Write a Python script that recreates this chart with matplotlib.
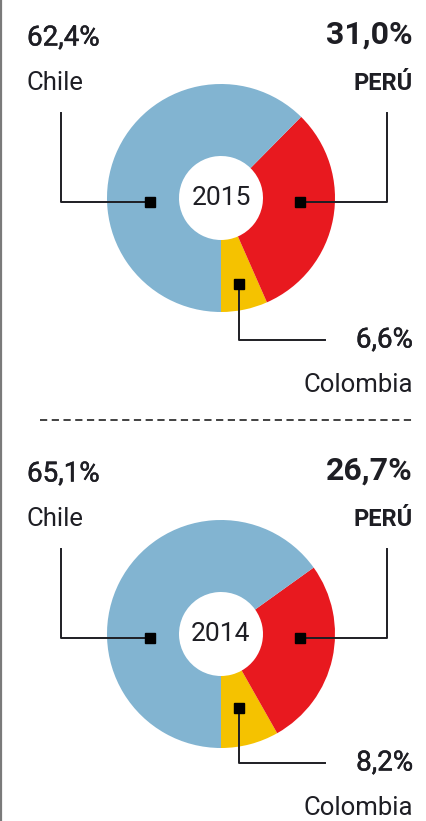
import matplotlib
matplotlib.use("Agg")
import matplotlib.pyplot as plt
import matplotlib.patheffects as pe

plt.rcParams['font.family'] = ['Roboto', 'DejaVu Sans']

# data
countries = ["Colombia", "PERÚ", "Chile"]
years = ["2015", "2014"]
shares_2015 = [6.6, 31.0, 62.4]
shares_2014 = [8.2, 26.7, 65.1]
colors = ["#f5c200", "#e8191f", "#82b4d1"]
txt = "#1e1e24"

# regular text thickened a little, to look "medium"
medium = [pe.withStroke(linewidth=0.35, foreground=txt)]


def fmt(v):
    return f"{v:.1f}%".replace(".", ",")


def panel(ax, cy, shares, year, col_y):
    cx = 221
    ax.pie(shares, colors=colors, startangle=90, counterclock=False,
           radius=114, center=(cx, cy),
           wedgeprops=dict(width=72, edgecolor='none'))
    ax.text(cx, cy, year, ha='center', va='center', fontsize=19, color=txt)

    # Chile label + leader
    ax.text(27, cy - 160, fmt(shares[2]), ha='left', va='center',
            fontsize=20, color=txt, path_effects=medium)
    ax.text(27, cy - 108, countries[2], ha='left', va='baseline',
            fontsize=18.5, color=txt)
    ax.plot([150, 61, 61], [cy + 4, cy + 4, cy - 85], color=txt, lw=1.4)
    ax.plot(150, cy + 4, 's', color='black', ms=6.5)

    # Peru label + leader
    ax.text(413, cy - 163, fmt(shares[1]), ha='right', va='center',
            fontsize=23, fontweight='bold', color=txt)
    ax.text(413, cy - 108, countries[1], ha='right', va='baseline',
            fontsize=17, fontweight='bold', color=txt)
    ax.plot([300, 387, 387], [cy + 4, cy + 4, cy - 85], color=txt, lw=1.4)
    ax.plot(300, cy + 4, 's', color='black', ms=6.5)

    # Colombia label + leader
    mk_y = col_y[0]
    ax.plot([239, 239, 325], [mk_y, col_y[1], col_y[1]], color=txt, lw=1.4)
    ax.plot(239, mk_y, 's', color='black', ms=6.5)
    ax.text(413, col_y[1], fmt(shares[0]), ha='right', va='center',
            fontsize=20, color=txt, path_effects=medium)
    ax.text(413, col_y[2], countries[0], ha='right', va='baseline',
            fontsize=18.5, color=txt)


fig = plt.figure(figsize=(4.27, 8.21), dpi=100)
ax = fig.add_axes([0, 0, 1, 1])

panel(ax, 198, shares_2015, years[0], (284, 340, 392))
panel(ax, 634, shares_2014, years[1], (708, 763, 815))

# separator and left border
ax.plot([40, 415], [420, 420], color='#333333', lw=1.3, ls=(0, (4, 2.5)))
ax.plot([1.2, 1.2], [0, 821], color='#7a7a7a', lw=1.6)

ax.set_xlim(0, 427)
ax.set_ylim(821, 0)
ax.set_aspect('equal')
ax.axis('off')

fig.savefig("out.png", dpi=100, facecolor='white')
